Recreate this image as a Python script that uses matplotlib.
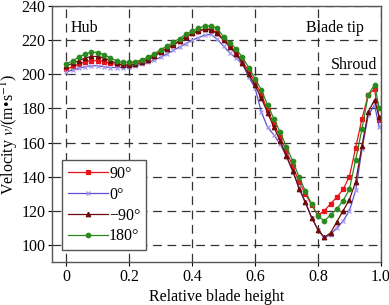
import numpy as np
import matplotlib
matplotlib.use("Agg")
import matplotlib.pyplot as plt

plt.rcParams['font.family'] = ['Liberation Serif', 'DejaVu Serif']
plt.rcParams['mathtext.fontset'] = 'stix'

# relative blade height positions (0.02 step) plus the end point
height = list(np.round(np.arange(0, 0.99, 0.02), 2)) + [0.995]

v_90 = [203, 204.5, 206, 207.5, 208, 208, 207.5, 206.5, 205.8, 205.5,
        205.5, 206.5, 208, 209.5, 211.5, 213.5, 215.5, 217.5, 219.8, 222,
        224, 225.5, 226.5, 226.3, 224.5, 220.5, 217, 213, 207.5, 202,
        195.5, 188, 179, 171, 163, 155, 146, 137, 130, 123.5,
        117.5, 120, 124, 128, 132.5, 140, 157, 174, 188, 191.5, 173]

v_0 = [201.5, 202.5, 203.5, 204.5, 205, 205, 204.5, 204, 204, 204,
       204.3, 205, 206, 207, 208.5, 210, 212, 214, 216, 218,
       220, 221.5, 223, 223.5, 220.5, 216.5, 212.5, 209.5, 206, 198.5,
       192, 178, 169, 164.5, 159, 152, 143, 134, 125, 116,
       109, 104, 106, 110, 114, 120, 132, 156, 176, 182, 169]

v_m90 = [205, 206.5, 208, 209.5, 210.5, 210.5, 209.5, 208, 206.5, 205.5,
         205.2, 206, 207, 208.5, 210.5, 213, 215, 217, 219.5, 222,
         224, 225.5, 226.5, 226, 224, 220, 216, 212, 206.5, 200,
         193.5, 186, 177.5, 169, 161, 152, 143.5, 133, 125, 116,
         109, 104.5, 107, 113.5, 120, 126.5, 137, 158, 178, 185, 175]

v_180 = [206, 208, 210, 212, 213, 212.8, 211.5, 209.5, 208, 207,
         207, 207.5, 208.5, 210, 212, 214.5, 216.5, 218.8, 221, 223.5,
         225.5, 227, 228.3, 228.5, 227, 222, 218.5, 215, 210, 204,
         197.5, 191, 182, 174, 166, 157.5, 149, 140, 131.5, 124,
         117, 114, 117.5, 121, 126, 132.5, 150, 168, 188, 194, 180]

series = [
    ('90°', v_90, '#e8141c', 's', '#e8141c'),
    ('0°', v_0, '#5a4fd0', 'x', '#a898ea'),
    ('\u221290°', v_m90, '#6e0a0a', '^', '#6e0a0a'),
    ('180°', v_180, '#2a8a1e', 'o', '#2a8a1e'),
]

fs = 11.5
fig = plt.figure(figsize=(3.89, 3.05), dpi=100)
ax = fig.add_axes([0.134, 0.141, 0.845, 0.839])

for label, vals, col, mk, mcol in series:
    ax.plot(height, vals, color=col, lw=0.9, marker=mk, ms=3.2,
            mfc=mcol, mec=mcol, mew=0.9, label=label)

ax.set_xlim(-0.045, 0.997)
ax.set_ylim(90, 240)
ax.set_xticks([0, 0.2, 0.4, 0.6, 0.8, 1.0])
ax.set_xticklabels(['0', '0.2', '0.4', '0.6', '0.8', '1.0'])
ax.set_yticks(range(100, 241, 20))
ax.tick_params(labelsize=fs, direction='out', length=3, width=0.8, pad=2)
ax.grid(True, color='#333333', linestyle=(0, (7, 4.5)), linewidth=0.9)

for s in ax.spines.values():
    s.set_color('#555555')
    s.set_linewidth(1.0)

ax.set_xlabel('Relative blade height', fontsize=fs, labelpad=3)
ax.set_ylabel('Velocity $v$/(m\u2022s$^{-1}$)', fontsize=fs, labelpad=1)

ax.text(0.013, 227, 'Hub', fontsize=fs, va='center', ha='left')
ax.text(0.761, 227, 'Blade tip', fontsize=fs, va='center', ha='left')
ax.text(0.84, 205.5, 'Shroud', fontsize=fs, va='center', ha='left')

leg = ax.legend(loc='lower left', bbox_to_anchor=(0.03, 0.047), fontsize=fs,
                borderaxespad=0, handlelength=2.5, handletextpad=0.1,
                labelspacing=0.3, borderpad=0.35, fancybox=False, framealpha=1)
leg.get_frame().set_edgecolor('#555555')
leg.get_frame().set_linewidth(1.0)

fig.savefig('out.png', dpi=100)
